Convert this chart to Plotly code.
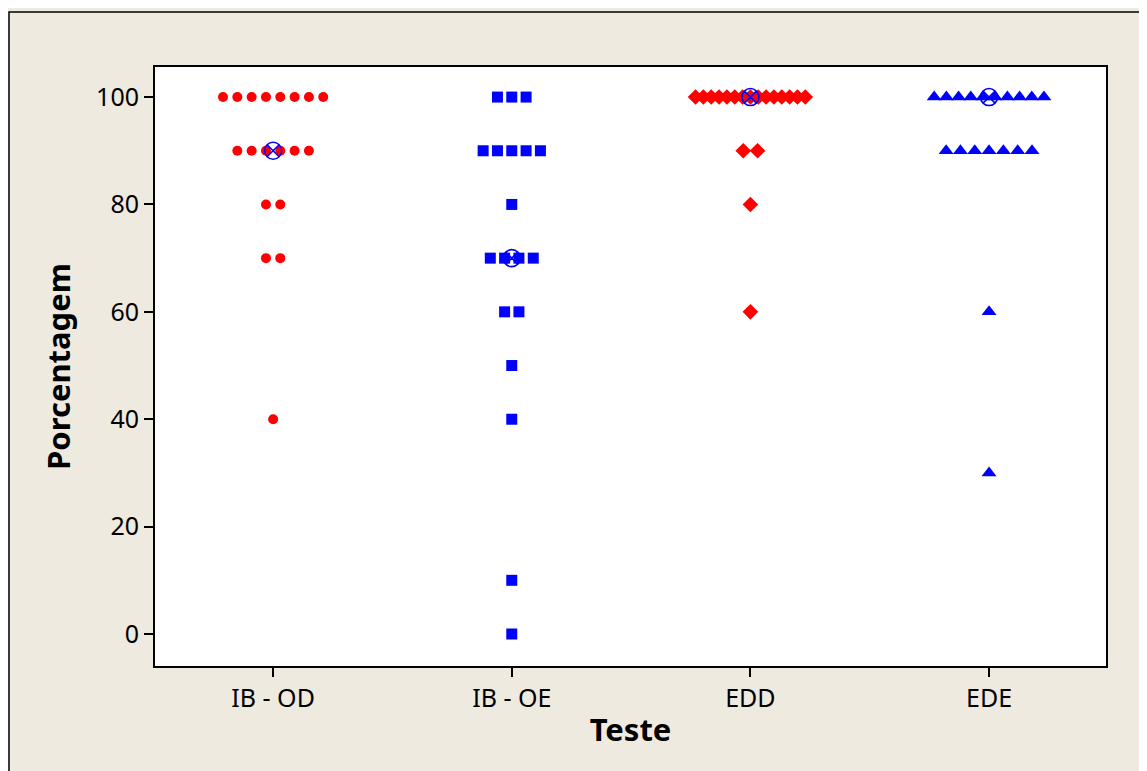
import numpy as np
import plotly.graph_objects as go

categories = ["IB - OD", "IB - OE", "EDD", "EDE"]

ib_od = [100, 100, 100, 100, 100, 100, 100, 100,
         90, 90, 90, 90, 90, 90,
         80, 80, 70, 70, 40]
ib_oe = [100, 100, 100,
         90, 90, 90, 90, 90,
         80, 70, 70, 70, 70,
         60, 60, 50, 40, 10, 0]
edd = [100, 100, 100, 100, 100, 100, 100, 100, 100, 100, 100, 100, 100, 100, 100,
       90, 90, 80, 60]
ede = [100, 100, 100, 100, 100, 100, 100, 100, 100, 100,
       90, 90, 90, 90, 90, 90, 90,
       60, 30]

series = [ib_od, ib_oe, edd, ede]
symbols = ["circle", "square", "diamond", "triangle-up"]
colors = ["#FF0000", "#0000FF", "#FF0000", "#0000FF"]
sizes = [10, 11, 12, 13]

y_ticks = [0, 20, 40, 60, 80, 100]

FONT = "Noto Sans, DejaVu Sans, sans-serif"


def spread(values, idx, base=0.06, maxw=0.46):
    vals = np.asarray(values, dtype=float)
    xs = np.zeros_like(vals)
    for v in np.unique(vals):
        m = np.where(vals == v)[0]
        n = len(m)
        step = base if n <= 1 else min(base, maxw / (n - 1))
        xs[m] = idx + (np.arange(n) - (n - 1) / 2) * step
    return xs


fig = go.Figure()
for i, (vals, sym, col, sz) in enumerate(zip(series, symbols, colors, sizes)):
    fig.add_trace(go.Scatter(
        x=spread(vals, i), y=vals, mode="markers",
        marker=dict(symbol=sym, color=col, size=sz, line=dict(width=0)),
        showlegend=False, name=categories[i]))

medians = [float(np.median(v)) for v in series]
fig.add_trace(go.Scatter(
    x=list(range(len(categories))), y=medians, mode="markers",
    marker=dict(symbol="circle-x-open", color="#0000FF", size=17,
                line=dict(width=1.6, color="#0000FF")),
    showlegend=False))

# page body adds ~8px offset; compensate
OFF = 8
W, H = 1147 - OFF, 771 - OFF
L, T = 155 - OFF, 67 - OFF
R = W - (1106 - OFF)
B = H - (666 - OFF)
pw, ph = W - L - R, H - T - B

fig.update_layout(
    width=W, height=H,
    margin=dict(l=L, r=R, t=T, b=B),
    paper_bgcolor="#EEEAE0",
    plot_bgcolor="#FFFFFF",
    font=dict(family=FONT, size=25, color="#000000"),
    shapes=[dict(type="rect", xref="paper", yref="paper",
                 x0=(9 - OFF - L) / pw, x1=(W + 10 - L) / pw,
                 y0=(H - B - (H + 10)) / ph, y1=(H - B - (12 - OFF)) / ph,
                 line=dict(color="#000000", width=1.5), fillcolor="rgba(0,0,0,0)",
                 layer="below")],
)

fig.update_xaxes(
    range=[-0.495, 3.49],
    tickmode="array", tickvals=list(range(len(categories))), ticktext=categories,
    ticks="outside", ticklen=9, tickwidth=1.5, tickcolor="#000000",
    showline=True, linecolor="#000000", linewidth=2, mirror=True,
    showgrid=False, zeroline=False,
    tickfont=dict(family=FONT, size=25),
    title=dict(text="<b>Teste</b>", font=dict(family=FONT, size=31), standoff=6),
)
fig.update_yaxes(
    range=[-5.96, 105.6],
    tickmode="array", tickvals=y_ticks, ticktext=[str(v) for v in y_ticks],
    ticks="outside", ticklen=9, tickwidth=1.5, tickcolor="#000000",
    showline=True, linecolor="#000000", linewidth=2, mirror=True,
    showgrid=False, zeroline=False,
    tickfont=dict(family=FONT, size=25),
    title=dict(text="<b>Porcentagem</b>", font=dict(family=FONT, size=31), standoff=16),
)

fig.write_html("out.html")
